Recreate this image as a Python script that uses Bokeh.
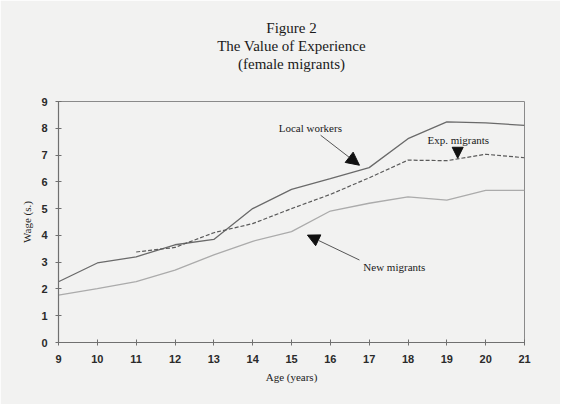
from bokeh.plotting import figure
from bokeh.models import Label, Arrow, NormalHead, FixedTicker, Range1d, Title
from bokeh.embed import file_html
from bokeh.resources import INLINE

# ---- data ----
ages = [9, 10, 11, 12, 13, 14, 15, 16, 17, 18, 19, 20, 21]
local_workers = [2.27, 2.97, 3.2, 3.65, 3.85, 5.0, 5.72, 6.12, 6.53, 7.61, 8.24, 8.2, 8.11]
exp_ages = [11, 12, 13, 14, 15, 16, 17, 18, 19, 20, 21]
exp_migrants = [3.38, 3.55, 4.1, 4.44, 5.0, 5.53, 6.15, 6.81, 6.79, 7.03, 6.9]
new_migrants = [1.77, 2.01, 2.27, 2.7, 3.27, 3.78, 4.14, 4.91, 5.2, 5.44, 5.32, 5.68, 5.68]

x_ticks = list(range(9, 22))
y_ticks = list(range(0, 10))

title_lines = ["Figure 2", "The Value of Experience", "(female migrants)"]

# annotation text positions (data units) and arrows (start -> tip)
notes = [
    dict(text="Local workers", x=14.67, y=8.0, ax0=15.75, ay0=7.74, ax1=16.75, ay1=6.62, size=13),
    dict(text="Exp. migrants", x=18.5, y=7.56, ax0=19.28, ay0=7.25, ax1=19.28, ay1=6.88, size=11),
    dict(text="New migrants", x=16.85, y=2.82, ax0=16.75, ay0=3.08, ax1=15.41, ay1=4.01, size=12),
]

BG = "#f2f2f1"
SERIF = "Liberation Serif"
SANS = "Liberation Sans"

p = figure(width=560, height=404, output_backend="svg", toolbar_location=None,
           x_range=Range1d(9, 21), y_range=Range1d(0, 9),
           min_border_left=58, min_border_right=36, min_border_top=101, min_border_bottom=62)
p.background_fill_color = BG
p.border_fill_color = BG
p.outline_line_color = "#8a8a8a"
p.outline_line_width = 1
p.xgrid.visible = False
p.ygrid.visible = False

p.line(ages, local_workers, line_color="#6a6a6a", line_width=1.3)
p.line(exp_ages, exp_migrants, line_color="#5a5a5a", line_width=1.2, line_dash="4 2")
p.line(ages, new_migrants, line_color="#ababab", line_width=1.3)

for ax in (p.xaxis[0], p.yaxis[0]):
    ax.axis_line_color = "#707070"
    ax.axis_line_width = 1.2
    ax.major_tick_line_color = "#707070"
    ax.minor_tick_line_color = None
    ax.major_tick_in = 3
    ax.major_tick_out = 3
    ax.major_label_text_font = SANS
    ax.major_label_text_font_style = "bold"
    ax.major_label_text_font_size = "11px"
    ax.major_label_text_color = "#2a2a2a"
    ax.axis_label_text_font = SERIF
    ax.axis_label_text_font_style = "normal"
    ax.axis_label_text_font_size = "11px"
    ax.axis_label_text_color = "#222222"

p.xaxis.ticker = FixedTicker(ticks=x_ticks)
p.yaxis.ticker = FixedTicker(ticks=y_ticks)
p.xaxis.axis_label = "Age (years)"
p.yaxis.axis_label = "Wage (s.)"
p.xaxis.major_label_standoff = 9
p.yaxis.major_label_standoff = 8
p.xaxis.axis_label_standoff = 5
p.yaxis.axis_label_standoff = 5

# spacer nearest the frame, then the title lines stacked upward
p.add_layout(Title(text=" ", text_font_size="25px", standoff=0), "above")
for t in reversed(title_lines):
    p.add_layout(Title(text=t, text_font=SERIF, text_font_size="15px", text_font_style="normal",
                       text_color="#1a1a1a", align="center", standoff=0), "above")

for n in notes:
    p.add_layout(Label(x=n["x"], y=n["y"], text=n["text"], text_font=SERIF, text_font_size="11px",
                       text_align="left", text_baseline="middle", text_color="#1a1a1a"))
    p.add_layout(Arrow(end=NormalHead(size=n["size"], fill_color="#111111", line_color="#111111"),
                       x_start=n["ax0"], y_start=n["ay0"], x_end=n["ax1"], y_end=n["ay1"],
                       line_color="#555555", line_width=1))

open("out.html", "w").write(file_html(p, INLINE))
